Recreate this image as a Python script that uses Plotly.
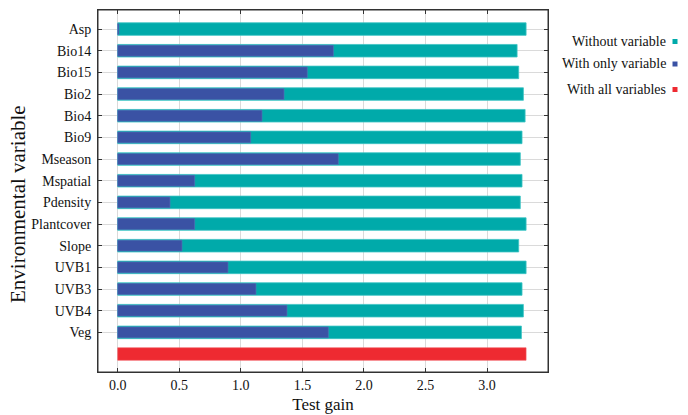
import plotly.graph_objects as go

variables = ["Asp", "Bio14", "Bio15", "Bio2", "Bio4", "Bio9", "Mseason", "Mspatial",
             "Pdensity", "Plantcover", "Slope", "UVB1", "UVB3", "UVB4", "Veg"]
without_variable = [3.317, 3.244, 3.257, 3.295, 3.309, 3.284, 3.270, 3.284,
                    3.270, 3.317, 3.257, 3.317, 3.284, 3.295, 3.279]
with_only_variable = [0.01, 1.752, 1.540, 1.351, 1.172, 1.080, 1.792, 0.625,
                      0.425, 0.625, 0.522, 0.896, 1.123, 1.375, 1.711]
with_all_variables = 3.317
x_ticks = [0.0, 0.5, 1.0, 1.5, 2.0, 2.5, 3.0]

TEAL = "#00AAAA"
BLUE = "#3A52A4"
RED = "#EE2A31"
FONT = "Liberation Serif"

W, H = 688, 415
ML, MR, MT, MB = 98, 140, 10, 43
PW, PH = W - ML - MR, H - MT - MB

pos = list(range(len(variables)))
all_pos = len(variables)

fig = go.Figure()
fig.add_trace(go.Bar(y=pos, x=without_variable, orientation="h", width=0.58,
                     marker=dict(color=TEAL, line=dict(color="#3CC4C4", width=0.8)),
                     name="Without variable", showlegend=False))
fig.add_trace(go.Bar(y=pos, x=with_only_variable, orientation="h", width=0.5,
                     marker=dict(color=BLUE, line=dict(color="#5A6DB8", width=0.6)),
                     name="With only variable", showlegend=False))
fig.add_trace(go.Bar(y=[all_pos], x=[with_all_variables], orientation="h", width=0.58,
                     marker=dict(color=RED, line=dict(color="#F25A5F", width=0.6)),
                     name="With all variables", showlegend=False))

fig.update_layout(
    width=W, height=H,
    margin=dict(l=ML, r=MR, t=MT, b=MB),
    barmode="overlay",
    plot_bgcolor="white", paper_bgcolor="white",
    font=dict(family=FONT, size=14, color="#111111"),
    xaxis=dict(range=[-0.16, 3.495], tickvals=x_ticks,
               ticktext=[f"{v:.1f}" for v in x_ticks], automargin=False,
               showgrid=True, gridcolor="#DADADA", gridwidth=1,
               zeroline=False, showline=True, linecolor="#333333", linewidth=1,
               mirror="ticks", ticks="inside", ticklen=4, tickcolor="#333333",
               tickfont=dict(family=FONT, size=14),
               title=dict(text="Test gain", font=dict(family=FONT, size=17), standoff=6)),
    yaxis=dict(range=[all_pos + 0.83, -0.88], tickvals=pos, ticktext=variables,
               automargin=False, ticklabelstandoff=3,
               showgrid=True, gridcolor="#DADADA", gridwidth=1,
               zeroline=False, showline=True, linecolor="#333333", linewidth=1,
               mirror="ticks", ticks="inside", ticklen=4, tickcolor="#333333",
               tickfont=dict(family=FONT, size=14)),
)

# y-axis title placed as in the reference
fig.add_annotation(x=(18 - ML) / PW, y=(H - MB - 204) / PH, xref="paper", yref="paper",
                   text="Environmental variable", textangle=-90, showarrow=False,
                   xanchor="center", yanchor="middle",
                   font=dict(family=FONT, size=21, color="#111111"))

# plot frame
fig.add_shape(type="rect", xref="paper", yref="paper", x0=0, x1=1, y0=0, y1=1,
              line=dict(color="#333333", width=1), fillcolor="rgba(0,0,0,0)", layer="above")

legend_items = [("Without variable", TEAL, 41.5), ("With only variable", BLUE, 64), ("With all variables", RED, 89.5)]
for text, color, ypx in legend_items:
    yp = (H - MB - ypx) / PH
    fig.add_annotation(x=(668 - ML) / PW, y=yp, xref="paper", yref="paper", text=text,
                       showarrow=False, xanchor="right", yanchor="middle",
                       font=dict(family=FONT, size=14, color="#111111"))
    fig.add_shape(type="rect", xref="paper", yref="paper",
                  x0=(672.5 - ML) / PW, x1=(677.5 - ML) / PW,
                  y0=yp - 2.5 / PH, y1=yp + 2.5 / PH,
                  fillcolor=color, line=dict(width=0))

fig.write_html("out.html", config={"displayModeBar": False},
               post_script="document.body.style.margin='0';document.body.style.overflow='hidden';")
